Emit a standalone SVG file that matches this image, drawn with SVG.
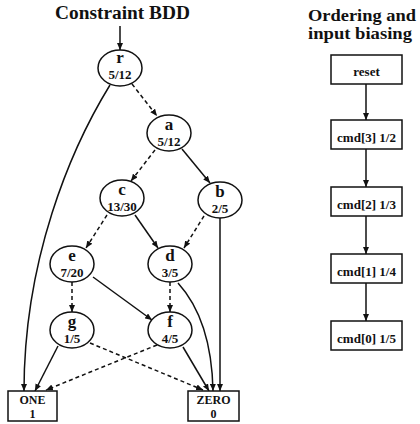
<svg xmlns="http://www.w3.org/2000/svg" width="420" height="424" viewBox="0 0 420 424">
  <defs>
    <marker id="arrow" markerUnits="userSpaceOnUse" markerWidth="8" markerHeight="6" refX="7" refY="3" orient="auto">
      <path d="M0,0 L7,3 L0,6 z" fill="#111"/>
    </marker>
    <style>
      .title { font-family: "Liberation Serif", "Times New Roman", serif; font-weight: bold; font-size: 18px; fill: #111; }
      .sub { font-family: "Liberation Serif", "Times New Roman", serif; font-weight: bold; font-size: 16px; fill: #111; }
      .var { font-family: "Liberation Serif", "Times New Roman", serif; font-weight: bold; font-size: 17px; fill: #111; text-anchor: middle; }
      .prob { font-family: "Liberation Serif", "Times New Roman", serif; font-weight: bold; font-size: 13px; fill: #111; text-anchor: middle; }
      .term { font-family: "Liberation Serif", "Times New Roman", serif; font-weight: bold; font-size: 12px; fill: #111; text-anchor: middle; }
      .node ellipse, .node rect { fill: #fff; stroke: #111; stroke-width: 1.5; }
      .edge { fill: none; stroke: #111; stroke-width: 1.5; marker-end: url(#arrow); }
      .dashed { stroke-dasharray: 4 3; }
    </style>
  </defs>
  <rect width="420" height="424" fill="#fff"/>

  <!-- headings -->
  <text class="title" x="55" y="19" textLength="135" lengthAdjust="spacingAndGlyphs">Constraint BDD</text>
  <text class="sub" x="308" y="21" textLength="108" lengthAdjust="spacingAndGlyphs">Ordering and</text>
  <text class="sub" x="308" y="39" textLength="104" lengthAdjust="spacingAndGlyphs">input biasing</text>

  <!-- connectors -->
  <g id="connectors">
    <line class="edge" x1="120" y1="26" x2="120" y2="50"/>
    <line class="edge dashed" x1="132" y1="84" x2="157" y2="116"/>
    <path class="edge" d="M110,85 C70,150 24,260 24,391"/>
    <line class="edge dashed" x1="155" y1="150" x2="131" y2="181"/>
    <line class="edge" x1="182" y1="149" x2="210" y2="183"/>
    <line class="edge dashed" x1="107" y1="215" x2="86" y2="248"/>
    <line class="edge" x1="135" y1="215" x2="158" y2="248"/>
    <line class="edge dashed" x1="204" y1="216" x2="184" y2="248"/>
    <line class="edge" x1="220" y1="218" x2="220" y2="391"/>
    <line class="edge dashed" x1="72" y1="282" x2="72" y2="312"/>
    <line class="edge" x1="93" y1="277" x2="152" y2="320"/>
    <line class="edge dashed" x1="170" y1="282" x2="170" y2="312"/>
    <path class="edge" d="M178,283 C198,305 212,340 213,391"/>
    <line class="edge" x1="58" y1="346" x2="35" y2="391"/>
    <line class="edge dashed" x1="90" y1="343" x2="203" y2="390"/>
    <line class="edge dashed" x1="157" y1="345" x2="46" y2="390"/>
    <line class="edge" x1="183" y1="347" x2="209" y2="391"/>
    <!-- ordering chain -->
    <line class="edge" x1="366" y1="84" x2="366" y2="120"/>
    <line class="edge" x1="366" y1="149" x2="366" y2="187"/>
    <line class="edge" x1="366" y1="216" x2="366" y2="254"/>
    <line class="edge" x1="366" y1="283" x2="366" y2="321"/>
  </g>

  <!-- BDD nodes -->
  <g id="node-r" class="node">
    <ellipse cx="120" cy="68" rx="22" ry="18"/>
    <text class="var" x="120" y="63">r</text>
    <text class="prob" x="120" y="79">5/12</text>
  </g>
  <g id="node-a" class="node">
    <ellipse cx="169" cy="133" rx="22" ry="18"/>
    <text class="var" x="169" y="130">a</text>
    <text class="prob" x="169" y="146">5/12</text>
  </g>
  <g id="node-c" class="node">
    <ellipse cx="122" cy="198" rx="22" ry="18"/>
    <text class="var" x="122" y="195">c</text>
    <text class="prob" x="122" y="211">13/30</text>
  </g>
  <g id="node-b" class="node">
    <ellipse cx="220" cy="200" rx="22" ry="18"/>
    <text class="var" x="220" y="197">b</text>
    <text class="prob" x="220" y="213">2/5</text>
  </g>
  <g id="node-e" class="node">
    <ellipse cx="72" cy="264" rx="22" ry="18"/>
    <text class="var" x="72" y="261">e</text>
    <text class="prob" x="72" y="277">7/20</text>
  </g>
  <g id="node-d" class="node">
    <ellipse cx="170" cy="264" rx="22" ry="18"/>
    <text class="var" x="170" y="261">d</text>
    <text class="prob" x="170" y="277">3/5</text>
  </g>
  <g id="node-g" class="node">
    <ellipse cx="72" cy="330" rx="22" ry="18"/>
    <text class="var" x="72" y="327">g</text>
    <text class="prob" x="72" y="343">1/5</text>
  </g>
  <g id="node-f" class="node">
    <ellipse cx="170" cy="330" rx="22" ry="18"/>
    <text class="var" x="170" y="327">f</text>
    <text class="prob" x="170" y="343">4/5</text>
  </g>
  <g id="node-one" class="node">
    <rect x="8" y="391" width="49" height="30"/>
    <text class="term" x="32.5" y="404">ONE</text>
    <text class="term" x="32.5" y="418">1</text>
  </g>
  <g id="node-zero" class="node">
    <rect x="188" y="391" width="51" height="30"/>
    <text class="term" x="213.5" y="404">ZERO</text>
    <text class="term" x="213.5" y="418">0</text>
  </g>

  <!-- ordering nodes -->
  <g id="node-reset" class="node">
    <rect x="331" y="55" width="71" height="29"/>
    <text class="prob" x="366.5" y="76">reset</text>
  </g>
  <g id="node-cmd3" class="node">
    <rect x="331" y="120" width="71" height="29"/>
    <text class="prob" x="366.5" y="142">cmd[3] 1/2</text>
  </g>
  <g id="node-cmd2" class="node">
    <rect x="331" y="187" width="71" height="29"/>
    <text class="prob" x="366.5" y="209">cmd[2] 1/3</text>
  </g>
  <g id="node-cmd1" class="node">
    <rect x="331" y="254" width="71" height="29"/>
    <text class="prob" x="366.5" y="276">cmd[1] 1/4</text>
  </g>
  <g id="node-cmd0" class="node">
    <rect x="331" y="321" width="71" height="29"/>
    <text class="prob" x="366.5" y="343">cmd[0] 1/5</text>
  </g>
</svg>
